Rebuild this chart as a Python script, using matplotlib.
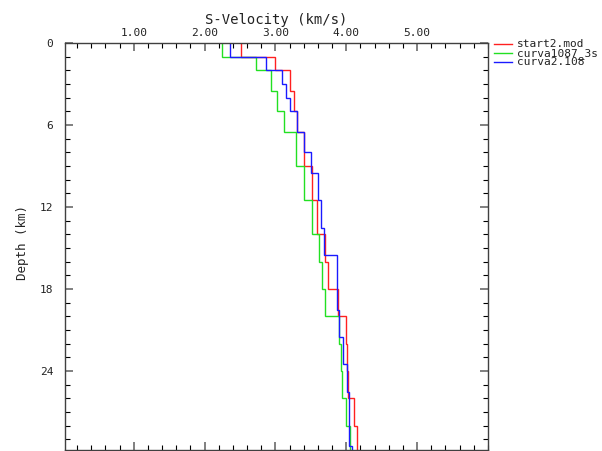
import matplotlib
matplotlib.use("Agg")
import matplotlib.pyplot as plt
from matplotlib.ticker import MultipleLocator, FormatStrFormatter
from matplotlib.lines import Line2D

# ---- data (layer boundaries in km, S-velocity in km/s) ----
red_label = "start2.mod"
red_edges = [0, 1, 2, 3.5, 5, 6.5, 9, 11.5, 14, 16, 18, 20, 22, 24, 26, 28, 30]
red_vs = [2.52, 3.00, 3.21, 3.26, 3.31, 3.41, 3.51, 3.59, 3.70, 3.74, 3.88,
          4.00, 4.005, 4.03, 4.11, 4.15]

green_label = "curva1087_3s"
green_edges = [0, 1, 2, 3.5, 5, 6.5, 9, 11.5, 14, 16, 18, 20, 22, 24, 26, 28, 30]
green_vs = [2.24, 2.73, 2.94, 3.02, 3.12, 3.29, 3.40, 3.51, 3.61, 3.66, 3.70,
            3.90, 3.92, 3.94, 4.00, 4.05]

blue_label = "curva2.108"
blue_edges = [0, 1, 2, 3, 4, 5, 6.5, 8, 9.5, 11.5, 13.5, 15.5, 17.5, 19.5,
              21.5, 23.5, 25.5, 27.5, 29.5, 30]
blue_vs = [2.36, 2.865, 3.09, 3.15, 3.21, 3.31, 3.41, 3.50, 3.595, 3.65, 3.69,
           3.865, 3.875, 3.90, 3.955, 4.01, 4.035, 4.04, 4.08]

x_major = [1, 2, 3, 4, 5]
y_major = [0, 6, 12, 18, 24]

mono = "DejaVu Sans Mono"

W, H = 602, 451
fig = plt.figure(figsize=(W / 100, H / 100), dpi=100)
left, right, top, bottom = 65, 488, 43, 450
ax = fig.add_axes([left / W, 1 - bottom / H, (right - left) / W, (bottom - top) / H])

series = [
    (red_edges, red_vs, "#ff2020", red_label),
    (green_edges, green_vs, "#22e022", green_label),
    (blue_edges, blue_vs, "#1a1aff", blue_label),
]
for edges, vs, col, lab in series:
    ax.stairs(vs, edges, orientation="horizontal", baseline=None,
              color=col, lw=1.0, label=lab)

ax.set_xlim(0.03, 6.0)
ax.set_ylim(29.77, 0)

ax.xaxis.set_major_locator(matplotlib.ticker.FixedLocator(x_major))
ax.xaxis.set_minor_locator(MultipleLocator(0.2))
ax.xaxis.set_major_formatter(FormatStrFormatter("%.2f"))
ax.yaxis.set_major_locator(matplotlib.ticker.FixedLocator(y_major))
ax.yaxis.set_minor_locator(MultipleLocator(1))
ax.yaxis.set_major_formatter(FormatStrFormatter("%d"))

ax.tick_params(axis="x", which="both", direction="in", top=True, bottom=True,
               labeltop=True, labelbottom=False)
ax.tick_params(axis="y", which="both", direction="in", left=True, right=True,
               labelleft=True, labelright=False)
ax.tick_params(which="major", length=5.8, width=1.4, color="0.5",
               labelsize=8, labelcolor="#222222")
ax.tick_params(which="minor", length=3.4, width=0.8, color="black")
ax.tick_params(axis="x", which="major", pad=3.5)
ax.tick_params(axis="y", which="major", pad=8.5)
for lab in ax.get_xticklabels() + ax.get_yticklabels():
    lab.set_fontfamily(mono)

for sp in ax.spines.values():
    sp.set_color("0.25")
    sp.set_linewidth(1.0)

fig.text((left + right) / 2 / W, 1 - 20 / H, "S-Velocity (km/s)",
         ha="center", va="center", fontsize=10, family=mono, color="#222222")
fig.text(22.7 / W, 1 - 242 / H, "Depth (km)", rotation=90,
         ha="center", va="center", fontsize=9, family=mono, color="#222222")

# legend outside right
for i, (edges, vs, col, lab) in enumerate(series):
    yy = 1 - (44 + 9.2 * i) / H
    fig.add_artist(Line2D([494 / W, 512 / W], [yy, yy], color=col, lw=1.0,
                          transform=fig.transFigure))
    fig.text(517 / W, yy, lab, ha="left", va="center", fontsize=8, family=mono,
             color="#222222")

fig.savefig("out.png", dpi=100)
